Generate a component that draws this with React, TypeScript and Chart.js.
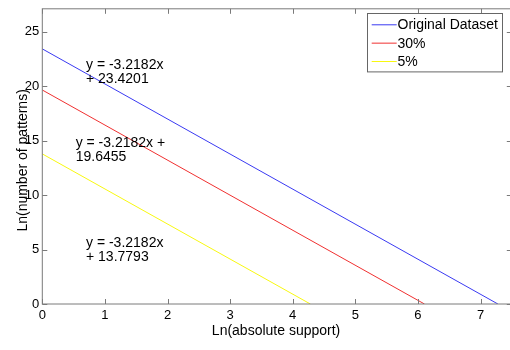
import React, { useEffect, useRef } from "react";
import { Chart, registerables } from "chart.js";

Chart.register(...registerables);

// ---- data ----
const seriesNames = ["Original Dataset", "30%", "5%"];
const originalX = [0, 7.278];
const originalY = [23.4201, 0];
const thirtyX = [0, 6.105];
const thirtyY = [19.6455, 0];
const fiveX = [0, 4.282];
const fiveY = [13.7793, 0];
const xTicks = [0, 1, 2, 3, 4, 5, 6, 7];
const yTicks = [0, 5, 10, 15, 20, 25];
const fitLabels = [
  ["y = -3.2182x", "+ 23.4201"],
  ["y = -3.2182x +", "19.6455"],
  ["y = -3.2182x", "+ 13.7793"],
];
const xTitle = "Ln(absolute support)";
const yTitle = "Ln(number of patterns)";

const seriesColors = ["#3a3af2", "#f03030", "#f8f810"];
const FONT = '"Liberation Sans", Arial, Helvetica, sans-serif';
const AXIS = "#7a7a7a";

const toPoints = (xs: number[], ys: number[]) => xs.map((x, i) => ({ x, y: ys[i] }));

const matlabPlugin = {
  id: "matlab",
  afterDraw(chart: any) {
    const { ctx, chartArea: a, scales } = chart;
    const xs = scales.x;
    const ys = scales.y;
    ctx.save();
    // box
    ctx.strokeStyle = AXIS;
    ctx.lineWidth = 1;
    ctx.strokeRect(a.left, a.top, a.right - a.left, a.bottom - a.top);
    // inward ticks
    const tl = 5;
    ctx.beginPath();
    xTicks.forEach((v) => {
      const px = Math.round(xs.getPixelForValue(v)) + 0.5;
      ctx.moveTo(px, a.bottom);
      ctx.lineTo(px, a.bottom - tl);
      ctx.moveTo(px, a.top);
      ctx.lineTo(px, a.top + tl);
    });
    yTicks.forEach((v) => {
      const py = Math.round(ys.getPixelForValue(v)) + 0.5;
      ctx.moveTo(a.left, py);
      ctx.lineTo(a.left + tl, py);
      ctx.moveTo(a.right, py);
      ctx.lineTo(a.right - tl, py);
    });
    ctx.stroke();

    // fit annotations (anchor: data coords of first-line left/baseline)
    const anchors = [
      [0.698, 21.56],
      [0.533, 14.44],
      [0.698, 5.24],
    ];
    ctx.fillStyle = "#000";
    ctx.font = `14px ${FONT}`;
    ctx.textAlign = "left";
    ctx.textBaseline = "alphabetic";
    fitLabels.forEach((lines, i) => {
      const px = xs.getPixelForValue(anchors[i][0]);
      const py = ys.getPixelForValue(anchors[i][1]);
      lines.forEach((t, j) => ctx.fillText(t, px, py + j * 14));
    });

    // axis titles
    ctx.textAlign = "center";
    ctx.textBaseline = "alphabetic";
    ctx.fillText(xTitle, (a.left + a.right) / 2 - 1, a.bottom + 31);
    ctx.save();
    ctx.translate(27, (a.top + a.bottom) / 2 + 4);
    ctx.rotate(-Math.PI / 2);
    ctx.fillText(yTitle, 0, 0);
    ctx.restore();

    // legend
    const bx = a.right - 144.8;
    const by = a.top + 4.3;
    const bw = 135;
    const bh = 58.4;
    ctx.fillStyle = "#fff";
    ctx.fillRect(bx, by, bw, bh);
    ctx.strokeStyle = "#666";
    ctx.strokeRect(Math.round(bx) + 0.5, Math.round(by) + 0.5, bw, bh);
    ctx.font = `14px ${FONT}`;
    ctx.textAlign = "left";
    ctx.textBaseline = "middle";
    chart.data.datasets.forEach((ds: any, i: number) => {
      const cy = by + 11.7 + i * 18.35;
      ctx.strokeStyle = ds.borderColor;
      ctx.beginPath();
      ctx.moveTo(bx + 4.7, cy);
      ctx.lineTo(bx + 29.7, cy);
      ctx.stroke();
      ctx.fillStyle = "#000";
      ctx.fillText(ds.label, bx + 30.5, cy + 0.5);
    });
    ctx.restore();
  },
};

export default function App() {
  const ref = useRef<HTMLCanvasElement | null>(null);
  useEffect(() => {
    document.body.style.margin = "0";
    const canvas = ref.current!;
    const chart = new Chart(canvas, {
      type: "line",
      data: {
        datasets: [
          { label: seriesNames[0], data: toPoints(originalX, originalY), borderColor: seriesColors[0] },
          { label: seriesNames[1], data: toPoints(thirtyX, thirtyY), borderColor: seriesColors[1] },
          { label: seriesNames[2], data: toPoints(fiveX, fiveY), borderColor: seriesColors[2] },
        ].map((d) => ({ ...d, borderWidth: 1, pointRadius: 0, fill: false, tension: 0 })),
      },
      options: {
        animation: false,
        responsive: false,
        devicePixelRatio: 1,
        layout: { autoPadding: false, padding: { left: 0, right: 2.2, top: 1, bottom: 0 } },
        plugins: { legend: { display: false }, tooltip: { enabled: false } },
        scales: {
          x: {
            type: "linear",
            min: 0,
            max: 7.5,
            grid: { display: false, drawTicks: false },
            border: { display: false },
            afterFit: (s: any) => {
              s.height = 46;
            },
            afterBuildTicks: (s: any) => {
              s.ticks = xTicks.map((v) => ({ value: v }));
            },
            ticks: { font: { family: FONT, size: 13 }, color: "#000", padding: 4, maxRotation: 0, autoSkip: false },
          },
          y: {
            type: "linear",
            min: 0,
            max: 27.1,
            grid: { display: false, drawTicks: false },
            border: { display: false },
            afterFit: (s: any) => {
              s.width = 42.3;
            },
            afterBuildTicks: (s: any) => {
              s.ticks = yTicks.map((v) => ({ value: v }));
            },
            ticks: { font: { family: FONT, size: 13 }, color: "#000", padding: 3, autoSkip: false },
          },
        },
      },
      plugins: [matlabPlugin],
    } as any);
    return () => chart.destroy();
  }, []);
  return (
    <div style={{ position: "fixed", left: 0, top: -2, width: 514, height: 352, overflow: "visible" }}>
      <canvas ref={ref} width={514} height={352} style={{ width: 514, height: 352, display: "block" }} />
    </div>
  );
}
